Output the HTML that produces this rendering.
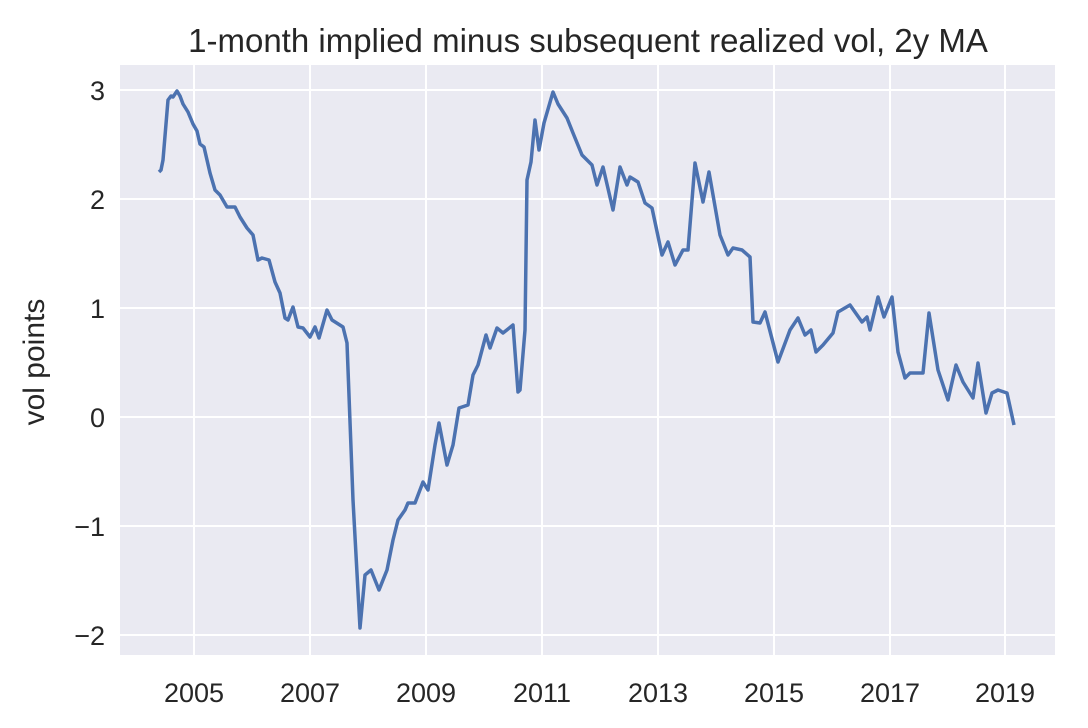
<!DOCTYPE html>
<html><head><meta charset="utf-8"><style>
html,body{margin:0;padding:0;background:#fff;}
svg{display:block;font-family:"Liberation Sans","DejaVu Sans",sans-serif;}
</style></head><body>
<svg width="1088" height="728" viewBox="0 0 1088 728" xmlns="http://www.w3.org/2000/svg">
<rect width="1088" height="728" fill="#fff"/>
<rect x="120" y="65" width="935" height="590" fill="#eaeaf2"/>
<g stroke="#fff" stroke-width="2">
<line x1="194" y1="65" x2="194" y2="655"/><line x1="310" y1="65" x2="310" y2="655"/>
<line x1="426" y1="65" x2="426" y2="655"/><line x1="542" y1="65" x2="542" y2="655"/>
<line x1="658" y1="65" x2="658" y2="655"/><line x1="774" y1="65" x2="774" y2="655"/>
<line x1="890" y1="65" x2="890" y2="655"/><line x1="1005" y1="65" x2="1005" y2="655"/>
<line x1="120" y1="90" x2="1055" y2="90"/><line x1="120" y1="199" x2="1055" y2="199"/>
<line x1="120" y1="308" x2="1055" y2="308"/><line x1="120" y1="417" x2="1055" y2="417"/>
<line x1="120" y1="526" x2="1055" y2="526"/><line x1="120" y1="635" x2="1055" y2="635"/>
</g>
<polyline fill="none" stroke="#4c72b0" stroke-width="3.5" stroke-linejoin="round" points="159,172 161,170 163,160 168,100 171,96 173,97 177,91 180,96 183,104 188,112 193,124 197,131 200,144 204,147 210,173 215,190 220,195 227,207 235,207 240,217 247,228 253,235 258,260 262,258 269,260 275,282 280,293 285,318 288,320 293,307 298,327 303,328 310,337 315,327 319,338 327,310 332,320 343,327 347,343 353,500 360,628 365,575 371,570 379,590 387,570 393,540 398,520 405,510 408,503 415,503 423,482 428,490 435,445 439,423 447,465 453,445 459,408 468,405 473,375 478,365 486,335 490,348 497,328 503,333 513,325 518,392 520,390 525,330 527,180 531,162 535,120 539,150 544,123 553,92 558,104 567,118 573,133 582,155 592,165 597,185 603,167 613,210 620,167 627,185 630,177 638,182 645,203 652,208 662,255 668,242 675,265 683,250 688,250 695,163 703,202 709,172 720,235 728,255 733,248 742,250 750,257 753,322 760,323 765,312 778,362 790,330 798,318 805,335 811,330 816,352 823,345 833,333 838,312 850,305 862,322 867,317 870,330 878,297 884,317 892,297 898,352 905,378 910,373 923,373 929,313 938,370 948,400 956,365 963,382 973,398 978,363 986,413 992,393 998,390 1007,393 1014,425"/>
<g fill="#262626" font-size="27" text-anchor="middle">
<text x="194" y="702">2005</text><text x="310" y="702">2007</text><text x="426" y="702">2009</text>
<text x="542" y="702">2011</text><text x="658" y="702">2013</text><text x="774" y="702">2015</text>
<text x="890" y="702">2017</text><text x="1005" y="702">2019</text>
</g>
<g fill="#262626" font-size="27" text-anchor="end">
<text x="105" y="100">3</text><text x="105" y="209">2</text><text x="105" y="318">1</text>
<text x="105" y="427">0</text><text x="105" y="536">−1</text><text x="105" y="645">−2</text>
</g>
<text x="588" y="52" fill="#262626" font-size="33" text-anchor="middle">1-month implied minus subsequent realized vol, 2y MA</text>
<text transform="translate(44,362) rotate(-90)" fill="#262626" font-size="30" text-anchor="middle">vol points</text>
</svg>
</body></html>
